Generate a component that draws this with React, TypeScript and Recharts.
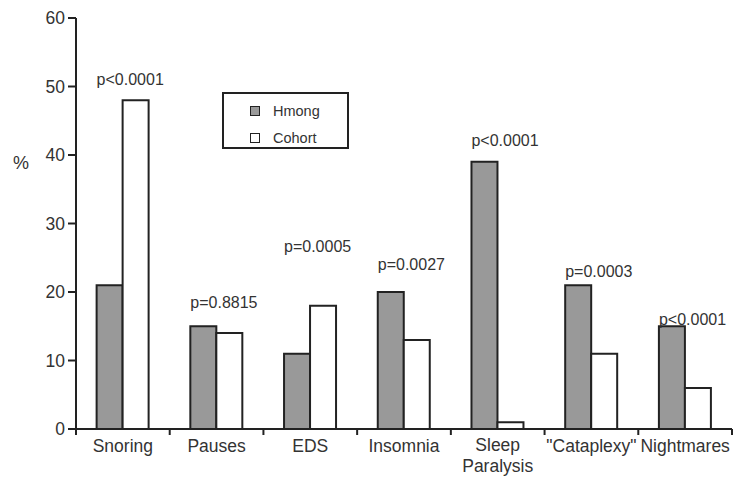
import {
  BarChart, Bar, XAxis, YAxis, Legend, LabelList,
} from 'recharts';

// ─── Data ───────────────────────────────────────────────────
const categories = ['Snoring', 'Pauses', 'EDS', 'Insomnia', 'Sleep Paralysis', '"Cataplexy"', 'Nightmares'];
const hmong = [21, 15, 11, 20, 39, 21, 15];
const cohort = [48, 14, 18, 13, 1, 11, 6];
const pValues = ['p<0.0001', 'p=0.8815', 'p=0.0005', 'p=0.0027', 'p<0.0001', 'p=0.0003', 'p<0.0001'];
// level (in %) where each p-value annotation sits
const pLevels = [51, 18.5, 26.6, 24, 42.2, 23, 16];
const yTicks = [0, 10, 20, 30, 40, 50, 60];
const seriesOrder = ['Hmong', 'Cohort'];

const data = categories.map((name, i) => ({
  name,
  Hmong: hmong[i],
  Cohort: cohort[i],
}));

const W = 737;
const H = 477;
const MARGIN = { top: 18, right: 5, bottom: 0, left: 0 };
const Y_W = 76;
const PLOT_W = W - MARGIN.left - MARGIN.right - Y_W;
const FONT = '"Liberation Sans", Arial, Helvetica, sans-serif';
const INK = '#222';
const TEXT = '#333';
const AXIS_FS = 17.5;

// ─── Category ticks: marks sit on the band boundaries ───────
function CategoryTick({ x, y, payload, index }: any) {
  const bw = PLOT_W / categories.length;
  const lines = String(payload.value).split(' ');
  const first = lines.length > 1 ? 22 : 23;
  return (
    <g>
      <line x1={x - bw / 2} y1={y} x2={x - bw / 2} y2={y + 6} stroke={INK} strokeWidth={2} />
      {index === categories.length - 1 && (
        <line x1={x + bw / 2} y1={y} x2={x + bw / 2} y2={y + 6} stroke={INK} strokeWidth={2} />
      )}
      {lines.map((l, i) => (
        <text
          key={i}
          x={x}
          y={y + first + i * 20.5}
          textAnchor="middle"
          fontSize={AXIS_FS}
          fill={TEXT}
          fontFamily={FONT}
        >
          {l}
        </text>
      ))}
    </g>
  );
}

// ─── p-value annotations, left aligned on the Hmong bar ─────
function PLabel(props: any) {
  const { x, y, height, index } = props;
  const v = hmong[index];
  const base = y + height;
  const perUnit = height / v;
  const ly = base - pLevels[index] * perUnit;
  return (
    <text x={x} y={ly} dy="0.35em" fontSize={16} fill={TEXT} fontFamily={FONT}>
      {pValues[index]}
    </text>
  );
}

function LegendBox({ payload }: any) {
  const items = [...(payload || [])].sort(
    (a: any, b: any) => seriesOrder.indexOf(a.value) - seriesOrder.indexOf(b.value),
  );
  return (
    <div style={{
      width: 127, height: 57, boxSizing: 'border-box',
      border: `2px solid ${INK}`, background: '#fff',
      padding: '3px 0 0 26px', fontFamily: FONT, fontSize: 14.5, color: TEXT,
    }}>
      {items.map((p: any) => (
        <div key={p.value} style={{ display: 'flex', alignItems: 'center', height: 27 }}>
          <span style={{
            width: 10, height: 10, boxSizing: 'border-box',
            border: `1.5px solid ${INK}`, background: p.color,
            marginRight: 13,
          }} />
          {p.value}
        </div>
      ))}
    </div>
  );
}

export default function App() {
  return (
    <div style={{ position: 'absolute', left: 0, top: 0, background: '#fff' }}>
      <BarChart
        width={W}
        height={H}
        data={data}
        margin={MARGIN}
        barCategoryGap="22%"
        barGap={0}
      >
        <XAxis
          dataKey="name"
          height={48}
          axisLine={{ stroke: INK, strokeWidth: 2 }}
          tickLine={false}
          tickSize={0}
          tickMargin={0}
          interval={0}
          tick={<CategoryTick />}
        />
        <YAxis
          width={Y_W}
          domain={[0, 60]}
          ticks={yTicks}
          allowDataOverflow
          axisLine={{ stroke: INK, strokeWidth: 2 }}
          tickLine={{ stroke: INK, strokeWidth: 2 }}
          tickSize={8}
          tickMargin={3}
          tick={{ fontSize: AXIS_FS, fill: TEXT, fontFamily: FONT }}
          label={{
            value: '%',
            content: () => (
              <text x={21} y={163} dy="0.35em" textAnchor="middle" fontSize={18} fill={TEXT} fontFamily={FONT}>%</text>
            ),
          }}
        />
        <Legend
          layout="vertical"
          align="center"
          verticalAlign="middle"
          itemSorter={null}
          wrapperStyle={{ left: 222, top: 92, width: 127, height: 57 }}
          content={<LegendBox />}
        />
        <Bar dataKey="Hmong" fill="#999999" stroke={INK} strokeWidth={2} isAnimationActive={false}>
          <LabelList dataKey="Hmong" content={<PLabel />} />
        </Bar>
        <Bar dataKey="Cohort" fill="#ffffff" stroke={INK} strokeWidth={2} isAnimationActive={false} />
      </BarChart>
    </div>
  );
}
